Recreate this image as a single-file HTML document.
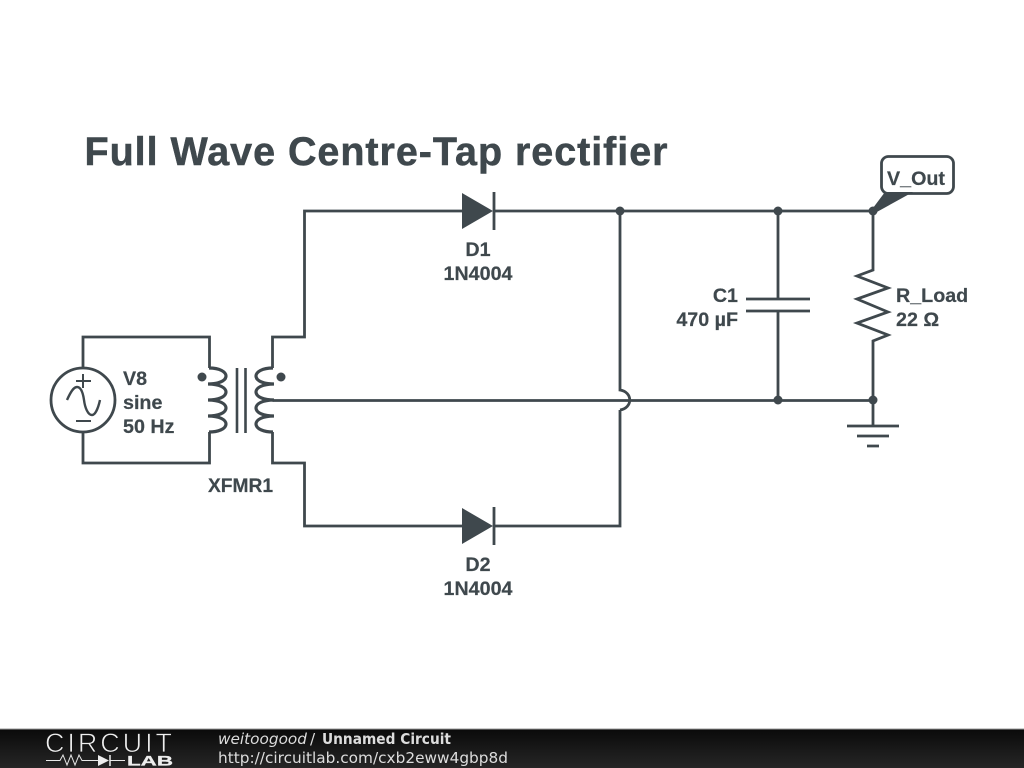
<!DOCTYPE html>
<html><head><meta charset="utf-8"><style>
html,body{margin:0;padding:0;background:#fff;width:1024px;height:768px;overflow:hidden}
svg{display:block}
.t{font-family:"Liberation Sans",sans-serif;font-weight:bold;font-size:19.700px;fill:#3f484d;stroke:#3f484d;stroke-width:.2}
.w{fill:none;stroke:#3f484d;stroke-width:2.8}
.f{font-family:"DejaVu Sans",sans-serif;font-size:15.300px;fill:#ddd}
</style></head><body>
<svg width="1024" height="768" viewBox="0 0 1024 768" xmlns="http://www.w3.org/2000/svg">
<defs><linearGradient id="g" x1="0" y1="0" x2="0" y2="1"><stop offset="0" stop-color="#0a0a0a"/><stop offset="1" stop-color="#262626"/></linearGradient></defs>
<rect width="1024" height="768" fill="#fff"/>
<text x="84.500" y="165" font-family="Liberation Sans" font-weight="bold" font-size="39.500" fill="#3f484d" stroke="#3f484d" stroke-width=".5" textLength="583" lengthAdjust="spacing">Full Wave Centre-Tap rectifier</text>

<g class="w">
<path d="M83 368V337H209.500V368"/>
<path d="M83 432V463H209.500V432"/>
<circle cx="83" cy="400" r="32"/>
<path d="M67 400C71 391 74 387 77 387C81 387 83 393 84 400C85 408 88 415 92 415C95 415 98 409 100 400" stroke-width="2.400"/>
<path d="M83 374V388M76 381H91M76 421H91" stroke-width="2"/>
<g stroke-width="3.200">
<path d="M209 368C220 368 226 372 226 376C226 381 218 384 208 384C220 384 226 388 226 392C226 397 218 400 208 400C220 400 226 404 226 408C226 413 218 416 208 416C220 416 226 420 226 424C226 429 218 432 209 432"/>
<path d="M273 368C262 368 256 372 256 376C256 381 264 384 274 384C262 384 256 388 256 392C256 397 264 400 274 400C262 400 256 404 256 408C256 413 264 416 274 416C262 416 256 420 256 424C256 429 264 432 273 432"/>
</g>
<path d="M237 368V433M245.500 368V433" stroke-width="2.600"/>
<path d="M272.500 368V337H304.500V211H463M494 211H873"/>
<path d="M272.500 432V463H304.500V526H463M494 526H620V410"/>
<path d="M620 211V390C633 392 633 408 620 410"/>
<path d="M272.500 400.500H629M629 400.500H873"/>
<path d="M778 211V299M778 311V400M746 299H810M746 311H810"/>
<path d="M873 211V270L857 276L888 288L857 299L888 312L857 323L888 335L873 341V426"/>
<path d="M847 426H899M857 436H889M867 446H879"/>
<path d="M494 192V230M494 507V545"/>
<rect x="881.500" y="156.500" width="72" height="37" rx="7" fill="#fff"/>
</g>
<g fill="#3f484d">
<path d="M462 193L493 211L462 229Z"/>
<path d="M462 508L493 526L462 544Z"/>
<path d="M873 208L885 192L913 192L875 213Z"/>
<circle cx="620" cy="211" r="4.500"/><circle cx="778" cy="211" r="4.500"/><circle cx="873" cy="211" r="4.500"/>
<circle cx="778" cy="400" r="4.500"/><circle cx="873" cy="400" r="4.500"/>
<circle cx="202" cy="377" r="4.500"/><circle cx="281" cy="377" r="4.500"/>
</g>
<text class="t" x="123" y="385">V8</text>
<text class="t" x="123" y="409">sine</text>
<text class="t" x="123" y="433">50 Hz</text>
<text class="t" x="240.500" y="492" text-anchor="middle" style="font-size:19.200px">XFMR1</text>
<text class="t" x="478" y="256" text-anchor="middle">D1</text>
<text class="t" x="478" y="280" text-anchor="middle">1N4004</text>
<text class="t" x="478" y="571" text-anchor="middle">D2</text>
<text class="t" x="478" y="595" text-anchor="middle">1N4004</text>
<text class="t" x="738" y="302" text-anchor="end">C1</text>
<text class="t" x="738" y="326" text-anchor="end">470 µF</text>
<text class="t" x="896" y="302">R_Load</text>
<text class="t" x="896" y="326">22 Ω</text>
<text class="t" x="887" y="185">V_Out</text>

<rect x="0" y="729" width="1024" height="39" fill="url(#g)"/>
<rect x="0" y="728.500" width="1024" height="1" fill="#999"/>
<text x="45" y="752" font-family="Liberation Sans" font-size="27" fill="#eee" stroke="#141414" stroke-width=".8" textLength="127" lengthAdjust="spacing">CIRCUIT</text>
<path d="M46 760.500H60L63 755L67 765L71 755L75 765L79 755L82 760.500H98M110 760.500H125" fill="none" stroke="#e8e8e8" stroke-width="1"/>
<path d="M98 755L109 760.500L98 766Z" fill="#eee"/>
<path d="M110 755V766" fill="none" stroke="#eee" stroke-width="1.500"/>
<text x="127" y="765.500" font-family="Liberation Sans" font-weight="bold" font-size="14" fill="#eee" stroke="#eee" stroke-width=".3" textLength="46" lengthAdjust="spacingAndGlyphs">LAB</text>
<text class="f" x="218" y="744" font-style="italic" textLength="89" lengthAdjust="spacingAndGlyphs">weitoogood</text>
<text class="f" x="310" y="744">/</text>
<text class="f" x="322" y="744" font-weight="bold" fill="#fff" textLength="129" lengthAdjust="spacingAndGlyphs">Unnamed Circuit</text>
<text class="f" x="218" y="763" textLength="290" lengthAdjust="spacingAndGlyphs">http://circuitlab.com/cxb2eww4gbp8d</text>
</svg>
</body></html>
